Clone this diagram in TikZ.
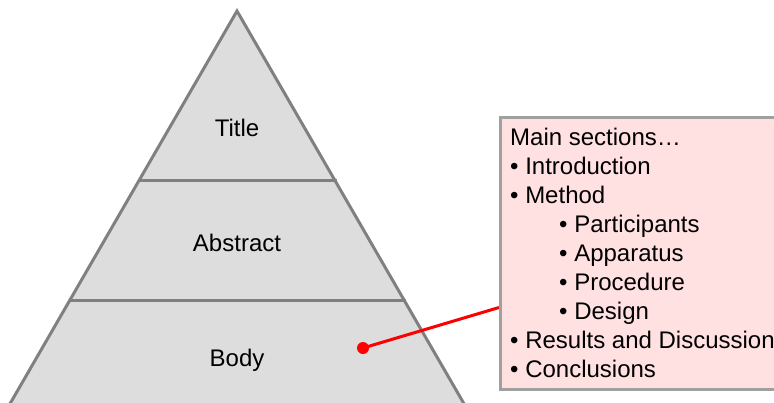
\documentclass[tikz,border=0pt]{standalone}
\usepackage{fontspec}
\setmainfont{Liberation Sans}
\definecolor{edgegray}{RGB}{128,128,128}
\definecolor{pyrfill}{RGB}{221,221,221}
\definecolor{boxline}{RGB}{160,160,160}
\definecolor{boxfill}{RGB}{255,225,225}
\begin{document}
\begin{tikzpicture}[x=1pt,y=-1pt,
  edge/.style={draw=edgegray, line width=3pt},
  lbl/.style={font=\fontsize{24}{28.9}\selectfont, inner sep=0pt, anchor=base},
  listbox/.style={draw=boxline, line width=2.5pt, fill=boxfill, minimum width=320pt, minimum height=272pt, anchor=north west, inner sep=0pt},
  listtxt/.style={font=\fontsize{24}{28.9}\selectfont, inner sep=0pt, anchor=north west, align=left},
  link/.style={draw=red, line width=3pt}]
\useasboundingbox (0,0) rectangle (774,402);
\clip (0,0) rectangle (774,402);
% pyramid
\fill[pyrfill] (237,11) -- (0.6,420) -- (473.4,420) -- cycle;
\draw[edge, line join=miter] (0.6,420) -- (237,11) -- (473.4,420);
\draw[edge] (137.5,180) -- (336.5,180);
\draw[edge] (68.5,300) -- (405.5,300);
\node[lbl] (title) at (237,136.6) {Title};
\node[lbl] (abstract) at (237,251.6) {Abstract};
\node[lbl] (body) at (237,366.6) {Body};
% callout
\node[circle, fill=red, inner sep=0pt, minimum size=12pt] (dot) at (363,348) {};
\coordinate (boxin) at (499,307.5);
\draw[link] (dot.center) -- (boxin);
\node[listbox] (box) at (499,116) {};
\node[listtxt] (list) at (510,128.4) {Main sections…\\
• Introduction\\
• Method\\
\hspace*{49pt}• Participants\\
\hspace*{49pt}• Apparatus\\
\hspace*{49pt}• Procedure\\
\hspace*{49pt}• Design\\
• Results and Discussion\\
• Conclusions};
\end{tikzpicture}
\end{document}
